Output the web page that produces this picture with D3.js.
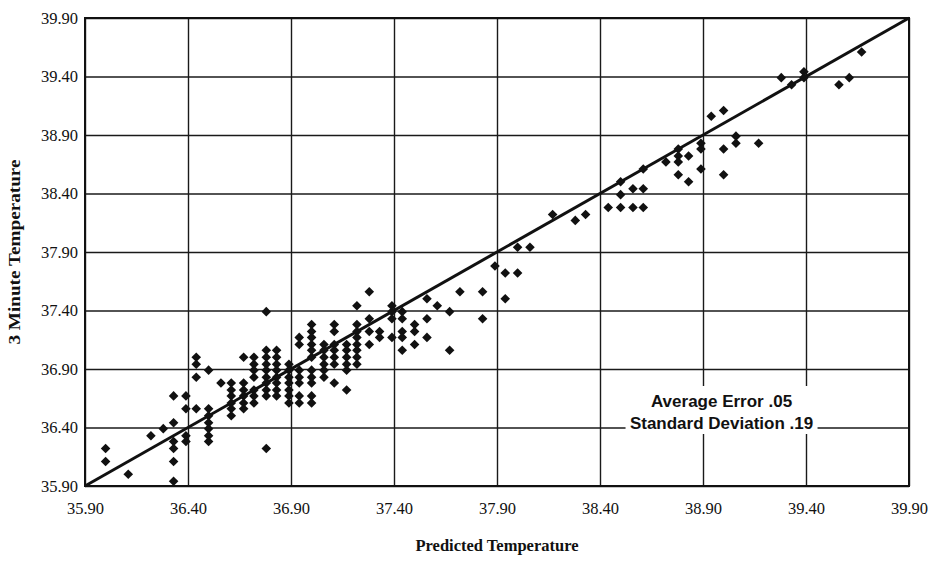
<!DOCTYPE html>
<html lang="en">
<head>
  <meta charset="UTF-8">
  <title>3 Minute vs Predicted Temperature</title>
  <script src="https://d3js.org/d3.v7.min.js"></script>
  <style>
    body { margin: 0; background: #fff; }
    svg { display: block; }
  </style>
</head>
<body>
<svg id="chart" width="939" height="561"></svg>
<script>
  // predicted temperature for each column of points
  const predictedCols = [
    36.00, 36.11, 36.22, 36.28, 36.33, 36.39, 36.44, 36.50, 36.56, 36.61,
    36.67, 36.72, 36.78, 36.83, 36.89, 36.94, 37.00, 37.06, 37.11, 37.17,
    37.22, 37.28, 37.33, 37.39, 37.44, 37.50, 37.56, 37.61, 37.67, 37.72,
    37.83, 37.89, 37.94, 38.00, 38.06, 38.17, 38.28, 38.33, 38.44, 38.50,
    38.56, 38.61, 38.72, 38.78, 38.83, 38.89, 38.94, 39.00, 39.06, 39.17,
    39.28, 39.33, 39.39, 39.56, 39.61, 39.67
  ];

  // measured 3 minute temperatures in each column (same order)
  const measuredCols = [
    [36.22, 36.11],
    [36.00],
    [36.33],
    [36.39],
    [36.67, 36.44, 36.28, 36.22, 36.11, 35.94],
    [36.67, 36.56, 36.33, 36.28],
    [37.00, 36.94, 36.83, 36.56],
    [36.89, 36.56, 36.50, 36.44, 36.39, 36.33, 36.28],
    [36.78],
    [36.78, 36.72, 36.67, 36.61, 36.56, 36.50],
    [37.00, 36.78, 36.72, 36.67, 36.61, 36.56],
    [37.00, 36.94, 36.89, 36.83, 36.72, 36.67, 36.61],
    [37.39, 37.06, 37.00, 36.94, 36.89, 36.83, 36.78, 36.72, 36.67, 36.22],
    [37.06, 37.00, 36.94, 36.89, 36.83, 36.78, 36.72, 36.67],
    [36.94, 36.89, 36.83, 36.78, 36.72, 36.67, 36.61],
    [37.17, 37.11, 36.89, 36.83, 36.78, 36.67, 36.61],
    [37.28, 37.22, 37.17, 37.11, 37.06, 37.00, 36.89, 36.83, 36.78, 36.67, 36.61],
    [37.11, 37.06, 37.00, 36.94, 36.89, 36.83],
    [37.28, 37.22, 37.11, 37.06, 37.00, 36.94, 36.78],
    [37.11, 37.06, 37.00, 36.94, 36.89, 36.72],
    [37.44, 37.28, 37.22, 37.17, 37.11, 37.06, 37.00, 36.94],
    [37.56, 37.33, 37.22, 37.11],
    [37.22, 37.17],
    [37.44, 37.39, 37.33, 37.17],
    [37.39, 37.33, 37.22, 37.17, 37.06],
    [37.28, 37.22, 37.11],
    [37.50, 37.33, 37.17],
    [37.44],
    [37.39, 37.06],
    [37.56],
    [37.56, 37.33],
    [37.78],
    [37.72, 37.50],
    [37.94, 37.72],
    [37.94],
    [38.22],
    [38.17],
    [38.22],
    [38.28],
    [38.50, 38.39, 38.28],
    [38.44, 38.28],
    [38.61, 38.44, 38.28],
    [38.67],
    [38.78, 38.72, 38.67, 38.56],
    [38.72, 38.50],
    [38.83, 38.78, 38.61],
    [39.06],
    [39.11, 38.78, 38.56],
    [38.89, 38.83],
    [38.83],
    [39.39],
    [39.33],
    [39.44, 39.39],
    [39.33],
    [39.39],
    [39.61]
  ];

  const tickValues = [35.9, 36.4, 36.9, 37.4, 37.9, 38.4, 38.9, 39.4, 39.9];
  const noteLines = ["Average Error .05", "Standard Deviation .19"];

  (() => {
    const points = [];
    predictedCols.forEach((p, i) => {
      measuredCols[i].forEach(m => points.push({ predicted: p, measured: m }));
    });

    const svg = d3.select("#chart");
    const plot = { left: 85, right: 909, top: 18, bottom: 486 };
    const serif = "'Liberation Serif', 'Times New Roman', serif";

    const x = d3.scaleLinear().domain([35.9, 39.9]).range([plot.left, plot.right]);
    const y = d3.scaleLinear().domain([35.9, 39.9]).range([plot.bottom, plot.top]);
    const fmt = d3.format(".2f");

    // grid + tick labels
    const xAxis = svg.append("g")
      .attr("transform", `translate(0,${plot.bottom})`)
      .call(d3.axisBottom(x).tickValues(tickValues).tickFormat(fmt)
        .tickSize(-(plot.bottom - plot.top)).tickPadding(16));

    const yAxis = svg.append("g")
      .attr("transform", `translate(${plot.left},0)`)
      .call(d3.axisLeft(y).tickValues(tickValues).tickFormat(fmt)
        .tickSize(-(plot.right - plot.left)).tickPadding(7));

    [xAxis, yAxis].forEach(a => {
      a.select(".domain").remove();
      a.selectAll(".tick line").attr("stroke", "#1a1a1a").attr("stroke-width", 1.4);
      a.selectAll(".tick text")
        .attr("fill", "#111")
        .attr("font-family", serif)
        .attr("font-size", "16.5px");
    });

    // plot frame
    svg.append("rect")
      .attr("x", plot.left).attr("y", plot.top)
      .attr("width", plot.right - plot.left).attr("height", plot.bottom - plot.top)
      .attr("fill", "none").attr("stroke", "#111").attr("stroke-width", 2);

    // note box (white, hides the grid behind the text)
    const nx = x(38.99);
    svg.append("rect")
      .attr("x", nx - 96).attr("y", 386)
      .attr("width", 192).attr("height", 48)
      .attr("fill", "#fff");

    svg.selectAll("text.note")
      .data(noteLines)
      .enter().append("text")
      .attr("class", "note")
      .attr("x", nx)
      .attr("y", (d, i) => 407 + i * 22)
      .attr("text-anchor", "middle")
      .attr("font-family", "'Liberation Sans', Arial, sans-serif")
      .attr("font-weight", "bold")
      .attr("font-size", "17px")
      .attr("fill", "#111")
      .text(d => d);

    // y = x reference line
    svg.append("line")
      .attr("x1", x(35.9)).attr("y1", y(35.9))
      .attr("x2", x(39.9)).attr("y2", y(39.9))
      .attr("stroke", "#111")
      .attr("stroke-width", 3);

    // data points (diamonds)
    const diamond = d3.symbol().type(d3.symbolSquare).size(46);
    svg.selectAll("path.pt")
      .data(points)
      .enter().append("path")
      .attr("class", "pt")
      .attr("d", diamond)
      .attr("transform", d => `translate(${x(d.predicted)},${y(d.measured)}) rotate(45)`)
      .attr("fill", "#111");

    // axis titles
    svg.append("text")
      .attr("x", (plot.left + plot.right) / 2)
      .attr("y", 551)
      .attr("text-anchor", "middle")
      .attr("font-family", serif)
      .attr("font-weight", "bold")
      .attr("font-size", "16.5px")
      .attr("fill", "#111")
      .text("Predicted Temperature");

    svg.append("text")
      .attr("transform", `translate(20,${(plot.top + plot.bottom) / 2}) rotate(-90) scale(1.2,1)`)
      .attr("text-anchor", "middle")
      .attr("font-family", serif)
      .attr("font-weight", "bold")
      .attr("font-size", "16px")
      .attr("fill", "#111")
      .text("3 Minute Temperature");
  })();
</script>
</body>
</html>
